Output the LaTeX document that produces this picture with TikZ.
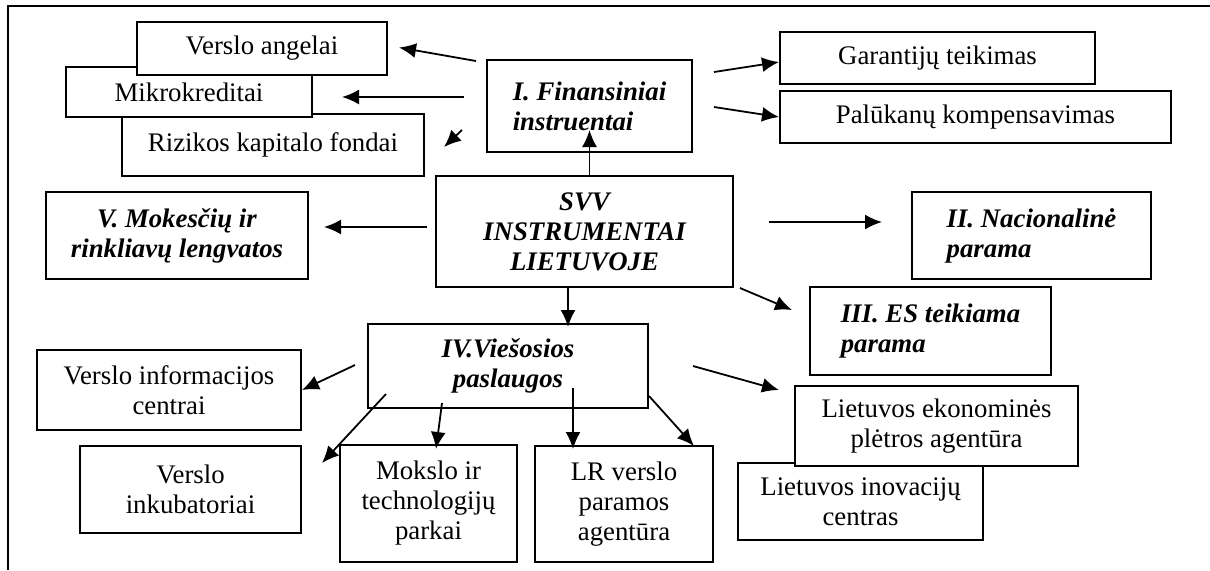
\documentclass[tikz,border=0pt]{standalone}
\usepackage{fontspec}
\setmainfont{Liberation Serif}
\usetikzlibrary{arrows.meta,calc}
\begin{document}
\begin{tikzpicture}[
    x=0.5pt, y=-0.5pt,
    font=\fontsize{13.4}{15}\selectfont,
    box/.style={rectangle, draw, line width=1pt, fill=white, align=center, inner sep=1pt},
    main/.style={box, font=\fontsize{13.4}{15}\selectfont\bfseries\itshape},
    arrow/.style={-{Latex[length=8.5pt,width=7.5pt]}, line width=0.9pt}
]
\useasboundingbox (0,0) rectangle (1210,570);

% Frame
\draw[line width=1.1pt] (1210,6) -- (8,6) -- (8,570);

% SVV instrumentai
\node[main, minimum width=148.5pt, minimum height=55.5pt] (svv) at (584.5,231.5) {SVV\\INSTRUMENTAI\\LIETUVOJE};

% I. Finansiniai instrumentai
\node[main, align=left, minimum width=102.5pt, minimum height=46pt] (finans) at (589.5,106) {I. Finansiniai\\instruentai};
\node[box, minimum width=151pt, minimum height=31pt] (rizika) at (273,145) {Rizikos kapitalo fondai};
\node[box, minimum width=123pt, minimum height=25pt] (mikro) at (189,92) {Mikrokreditai};
\node[box, minimum width=125pt, minimum height=26.5pt] (angel) at (262,48.5) {Verslo angelai};
\node[box, minimum width=157.5pt, minimum height=26pt] (garant) at (937.5,58) {Garantijų teikimas};
\node[box, minimum width=195.5pt, minimum height=26pt] (paluk) at (975.5,117) {Palūkanų kompensavimas};

% II, III, V
\node[main, align=left, minimum width=119.5pt, minimum height=43.5pt] (nacio) at (1031.5,235.5) {II. Nacionalinė\\parama};
\node[main, align=left, minimum width=120.5pt, minimum height=44pt] (espar) at (930.5,331) {III. ES teikiama\\parama};
\node[main, minimum width=131pt, minimum height=43.5pt] (mokes) at (177,235.5) {V. Mokesčių ir\\rinkliavų lengvatos};

% IV. Viesosios paslaugos
\node[main, minimum width=140pt, minimum height=42pt] (viesos) at (508,366) {IV.Viešosios\\paslaugos};
\node[box, minimum width=132pt, minimum height=40pt] (vic) at (169,390) {Verslo informacijos\\centrai};
\node[box, minimum width=110.5pt, minimum height=43.5pt] (inkub) at (190.5,489.5) {Verslo\\inkubatoriai};
\node[box, minimum width=88.5pt, minimum height=58.5pt] (mtp) at (428.5,503.5) {Mokslo ir\\technologijų\\parkai};
\node[box, minimum width=89pt, minimum height=58pt] (lrvpa) at (624,504) {LR verslo\\paramos\\agentūra};
\node[box, minimum width=122.5pt, minimum height=38.5pt] (lic) at (860.5,501.5) {Lietuvos inovacijų\\centras};
\node[box, minimum width=141.5pt, minimum height=40pt] (lepa) at (936.5,426) {Lietuvos ekonominės\\plėtros agentūra};

% Finansiniai connections
\draw[arrow] ($(finans.north west)+(-10,2)$) -- ($(angel.east)+(11,-1)$);
\draw[arrow] ($(finans.west)+(-22,-9)$) -- ($(mikro.east)+(29,5)$);
\draw[arrow] ($(finans.west)+(-24,24)$) -- ($(rizika.east)+(19,2)$);
\draw[arrow] ($(finans.east)+(21,-34)$) -- ($(garant.west)+(0,4)$);
\draw[arrow] ($(finans.east)+(21,1)$) -- (paluk.west);

% SVV connections
\draw[arrow] ($(svv.north)+(5,0)$) -- ($(finans.south)+(0,-23)$);
\draw[arrow] ($(svv.west)+(-8,-4.5)$) -- ($(mokes.east)+(15,-8.5)$);
\draw[arrow] ($(svv.east)+(35,-9.5)$) -- ($(nacio.west)+(-29,-13.5)$);
\draw[arrow] ($(svv.south east)+(6,0)$) -- ($(espar.west)+(-17,-21)$);
\draw[arrow] ($(svv.south)+(-16.5,0)$) -- ($(viesos.north)+(60,4)$);

% Viesosios paslaugos connections
\draw[arrow] ($(viesos.west)+(-12,-1)$) -- (vic.east);
\draw[arrow] ($(viesos.south west)+(19,-15)$) -- ($(inkub.east)+(20,-26.5)$);
\draw[arrow] ($(viesos.south west)+(75,-6)$) -- ($(mtp.north)+(7.5,5)$);
\draw[arrow] ($(viesos.south)+(65,-21)$) -- ($(lrvpa.north)+(-51,4)$);
\draw[arrow] ($(viesos.east)+(0,30)$) -- ($(lrvpa.north east)+(-20,1)$);
\draw[arrow] ($(viesos.east)+(44,0)$) -- ($(lepa.west)+(-15,-36)$);

\end{tikzpicture}
\end{document}
